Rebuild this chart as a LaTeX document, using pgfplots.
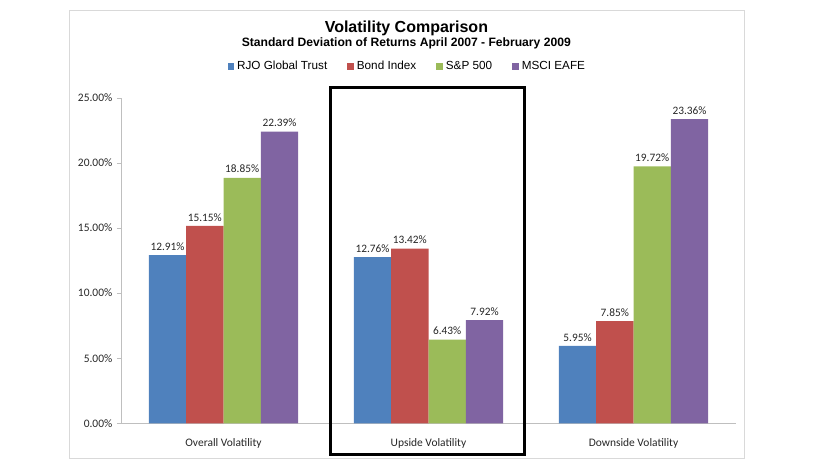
\documentclass[border=0pt]{standalone}
\usepackage{fontspec}
\setmainfont{Carlito}
\newfontfamily\arial{Liberation Sans}
\usepackage{pgfplots}
\pgfplotsset{compat=1.18}
\definecolor{cblue}{HTML}{4F81BD}
\definecolor{cred}{HTML}{C0504D}
\definecolor{cgreen}{HTML}{9BBB59}
\definecolor{cpurple}{HTML}{8064A2}
\definecolor{frame}{HTML}{D9D9D9}
\pgfplotsset{sqleg/.style={legend image code/.code={\fill[##1] (-2.5pt,-2.6pt) rectangle (2.7pt,2.6pt);}}}
\begin{document}
\begin{tikzpicture}
\begin{scope}[x=0.75pt,y=0.75pt]
\path (-121,-44.7) rectangle (695,423.3);
\draw[frame, line width=0.75pt] (-51,412.3) rectangle (623,-34.7);
\end{scope}
\begin{axis}[
 at={(0,0)}, anchor=south west, scale only axis,
 width=461.25pt, height=244.2pt,
 xmin=-0.5, xmax=2.5, ymin=0, ymax=25,
 ybar=0pt, bar width=28pt,
 xtick={0,1,2},
 xticklabels={Overall Volatility, Upside Volatility, Downside Volatility},
 ytick={0,5,...,25},
 yticklabel={\pgfmathprintnumber[fixed,fixed zerofill,precision=2]{\tick}\%},
 /pgf/number format/assume math mode=true,
 axis x line*=bottom, axis y line*=left,
 axis line style={draw=black!25, -},
 tick align=outside, major tick length=3pt,
 ytick style={draw=black!25},
 xtick style={draw=none},
 tick label style={font=\fontsize{8.6}{10}\selectfont, text=black!85},
 xticklabel style={yshift=-5pt},
 nodes near coords={\pgfmathprintnumber[fixed,fixed zerofill,precision=2]{\pgfplotspointmeta}\%},
 nodes near coords style={font=\fontsize{8.5}{10}\selectfont, text=black!85},
 legend style={at={(0.466,1.097)}, anchor=center, draw=none, fill=none,
   font=\arial\fontsize{8.8}{10}\selectfont,
   /tikz/every even column/.append style={column sep=13pt}},
 legend columns=4, legend cell align=left,
 clip=false
]
\addplot[fill=cblue, draw=none, sqleg] coordinates {(0,12.91) (1,12.76) (2,5.95)};
\addplot[fill=cred, draw=none, sqleg] coordinates {(0,15.15) (1,13.42) (2,7.85)};
\addplot[fill=cgreen, draw=none, sqleg] coordinates {(0,18.85) (1,6.43) (2,19.72)};
\addplot[fill=cpurple, draw=none, sqleg] coordinates {(0,22.39) (1,7.92) (2,23.36)};
\legend{RJO Global Trust, Bond Index, S\&P 500, MSCI EAFE}
\end{axis}
\begin{scope}[x=0.75pt,y=0.75pt]
\node[anchor=base, font=\arial\bfseries\fontsize{12}{14}\selectfont] at (285.4,390.6) {Volatility Comparison};
\node[anchor=base, font=\arial\bfseries\fontsize{9.1}{11}\selectfont] at (285.3,376.6) {Standard Deviation of Returns April 2007 - February 2009};
\draw[black, line width=2.25pt] (209,335.3) rectangle (403,-30.7);
\end{scope}
\end{tikzpicture}
\end{document}
